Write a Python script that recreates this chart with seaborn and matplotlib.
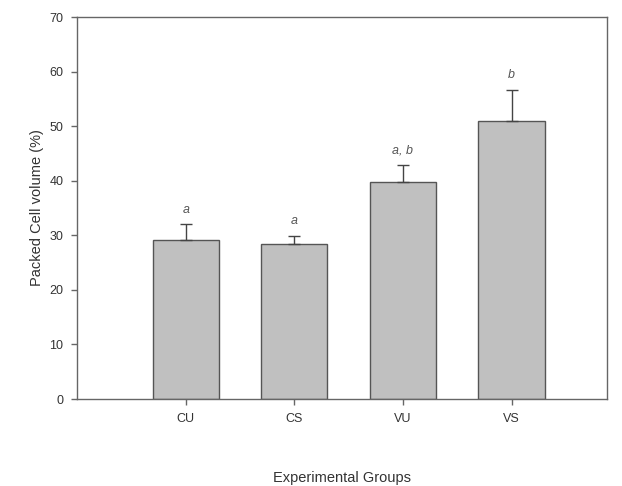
import matplotlib
matplotlib.use("Agg")
import matplotlib.pyplot as plt
import seaborn as sns
import pandas as pd
import numpy as np

groups = ["CU", "CS", "VU", "VS"]
means = [29.2, 28.4, 39.7, 50.9]
sem = [2.8, 1.5, 3.2, 5.7]
letters = ["a", "a", "a, b", "b"]

sns.set_style("white")
plt.rcParams['font.family'] = ['Liberation Sans', 'DejaVu Sans']

df = pd.DataFrame({"group": groups, "mean": means})

fig = plt.figure(figsize=(6.22, 4.86), dpi=100)
ax = fig.add_axes([0.124, 0.179, 0.852, 0.786])

sns.barplot(data=df, x="group", y="mean", ax=ax, color="#c0c0c0",
            edgecolor="#555555", linewidth=1.0, width=0.61, errorbar=None,
            saturation=1)

x = np.arange(len(groups))
ax.errorbar(x, means, yerr=[np.zeros(len(sem)), sem], fmt="none",
            ecolor="#444444", elinewidth=1.0, capsize=4, capthick=1.0)

for xi, m, s, lab in zip(x, means, sem, letters):
    ax.text(xi, m + s + 1.6, lab, ha="center", va="bottom", fontsize=9,
            style="italic", color="#555555")

ax.set_xlim(-1.0, 3.88)
ax.set_ylim(0, 70)
ax.set_yticks(range(0, 71, 10))
ax.set_ylabel("Packed Cell volume (%)", fontsize=10.5, color="#333333")
ax.set_xlabel("Experimental Groups", fontsize=10.5, color="#333333", labelpad=33)

for sp in ax.spines.values():
    sp.set_visible(True)
    sp.set_color("#666666")
    sp.set_linewidth(1.0)

ax.tick_params(axis="both", direction="out", length=4, width=1,
               color="#666666", labelsize=9, labelcolor="#333333", pad=6,
               bottom=True, left=True)

fig.savefig("out.png", dpi=100)
